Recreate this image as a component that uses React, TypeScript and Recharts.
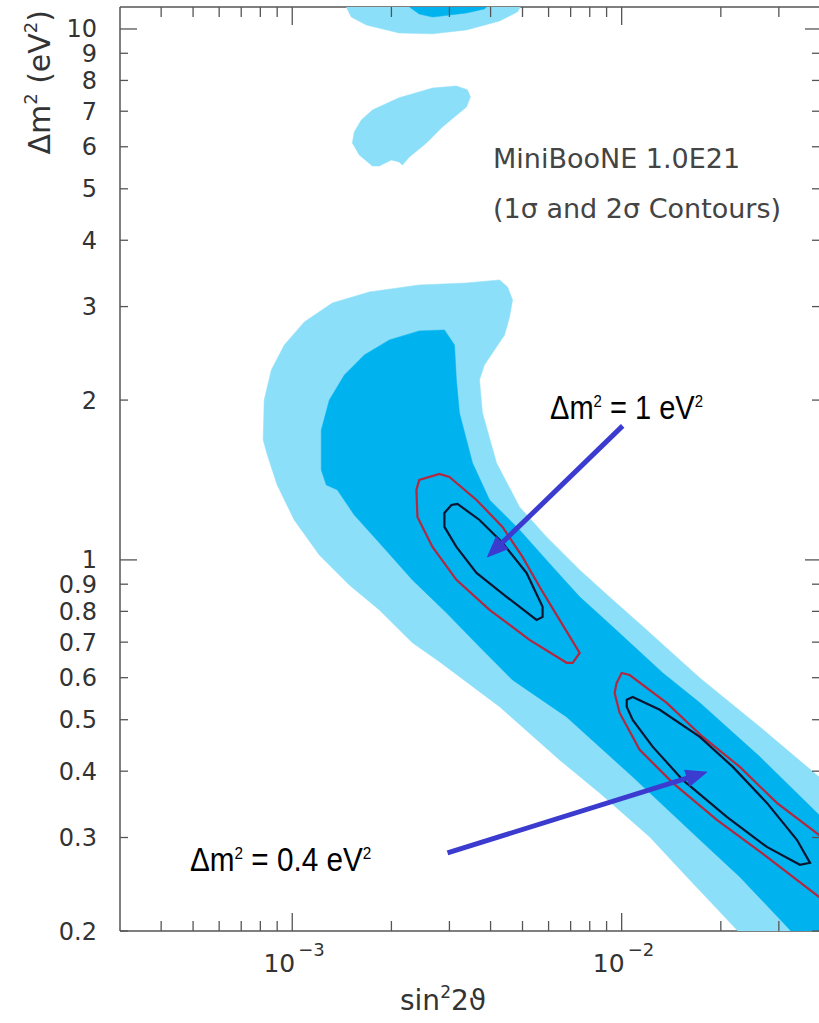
import React from 'react';
import { ScatterChart, Scatter, XAxis, YAxis } from 'recharts';

// ---- axes ----
const xDomain: [number, number] = [3e-4, 0.04];
const yDomain: [number, number] = [0.2, 11];
const xTickValues = [4e-4, 5e-4, 6e-4, 7e-4, 8e-4, 9e-4, 1e-3, 2e-3, 3e-3, 4e-3, 5e-3, 6e-3, 7e-3, 8e-3, 9e-3, 1e-2, 2e-2, 3e-2];
const yTickValues = [0.2, 0.3, 0.4, 0.5, 0.6, 0.7, 0.8, 0.9, 1, 2, 3, 4, 5, 6, 7, 8, 9, 10];

// ---- regions: [sin^2 2theta, dm^2] ----
const band2Sigma: [number, number][] = [
  [8.16e-4, 1.683], [8.22e-4, 2.0], [8.64e-4, 2.279], [9.46e-4, 2.54], [1.088e-3, 2.807],
  [1.323e-3, 3.048], [1.714e-3, 3.197], [2.43e-3, 3.295], [3.38e-3, 3.324], [4.26e-3, 3.367],
  [4.503e-3, 3.267], [4.664e-3, 3.087], [4.567e-3, 2.869], [4.41e-3, 2.653], [4.11e-3, 2.486],
  [3.83e-3, 2.329], [3.702e-3, 2.183], [3.78e-3, 1.892], [4.17e-3, 1.523], [4.898e-3, 1.258],
  [5.916e-3, 1.105], [7.455e-3, 0.9576], [9.39e-3, 0.841], [1.191e-2, 0.738], [1.727e-2, 0.5995],
  [2.628e-2, 0.4847], [3.97e-2, 0.3903], [4.93e-2, 0.349], [4.93e-2, 0.1765], [2.628e-2, 0.1765],
  [2.236e-2, 0.201], [1.61e-2, 0.2496], [1.217e-2, 0.3008], [8.576e-3, 0.364], [6.48e-3, 0.42],
  [4.26e-3, 0.529], [2.798e-3, 0.643], [2.316e-3, 0.698], [1.838e-3, 0.805], [1.49e-3, 0.897],
  [1.208e-3, 1.022], [1.014e-3, 1.189], [9.0e-4, 1.384], [8.4e-4, 1.577],
];
const band1Sigma: [number, number][] = [
  [1.225e-3, 1.477], [1.225e-3, 1.757], [1.296e-3, 2.0], [1.44e-3, 2.23], [1.655e-3, 2.432],
  [1.972e-3, 2.596], [2.43e-3, 2.7], [2.897e-3, 2.711], [3.108e-3, 2.54], [3.15e-3, 2.183],
  [3.218e-3, 1.892], [3.525e-3, 1.523], [3.971e-3, 1.297], [4.898e-3, 1.139], [6.17e-3, 0.97],
  [7.455e-3, 0.852], [9.39e-3, 0.748], [1.333e-2, 0.6125], [1.727e-2, 0.538], [2.628e-2, 0.4256],
  [3.97e-2, 0.3311], [4.93e-2, 0.297], [4.93e-2, 0.1765], [3.6e-2, 0.1765], [3.24e-2, 0.201],
  [2.284e-2, 0.2529], [1.727e-2, 0.297], [1.08e-2, 0.3903], [6.805e-3, 0.506], [4.664e-3, 0.594],
  [3.702e-3, 0.686], [2.938e-3, 0.795], [2.316e-3, 0.917], [1.838e-3, 1.077], [1.543e-3, 1.215],
  [1.37e-3, 1.355], [1.269e-3, 1.384],
];
const islandMid2Sigma: [number, number][] = [
  [1.751e-3, 5.52], [1.598e-3, 5.79], [1.522e-3, 6.1], [1.543e-3, 6.4], [1.621e-3, 6.74],
  [1.751e-3, 7.04], [2.11e-3, 7.42], [2.665e-3, 7.74], [3.15e-3, 7.81], [3.4e-3, 7.68],
  [3.475e-3, 7.45], [3.38e-3, 7.13], [3.108e-3, 6.83], [2.857e-3, 6.54], [2.555e-3, 6.1],
  [2.268e-3, 5.74], [2.16e-3, 5.545], [2.11e-3, 5.617], [2.0e-3, 5.667], [1.838e-3, 5.52],
];
const islandTop2Sigma: [number, number][] = [
  [1.44e-3, 11.84], [1.46e-3, 11.0], [1.51e-3, 10.53], [1.68e-3, 10.17], [2.11e-3, 9.83],
  [2.665e-3, 9.79], [3.38e-3, 9.96], [4.26e-3, 10.35], [4.83e-3, 10.77], [5.07e-3, 11.34],
  [5.14e-3, 11.84],
];
const islandTop1Sigma: [number, number][] = [
  [2.236e-3, 11.84], [2.268e-3, 11.0], [2.43e-3, 10.67], [2.665e-3, 10.53], [3.38e-3, 10.72],
  [3.83e-3, 10.91], [4.11e-3, 11.34], [4.17e-3, 11.84],
];
const contourRed1: [number, number][] = [
  [2.382e-3, 1.355], [2.43e-3, 1.415], [2.798e-3, 1.452], [3.0e-3, 1.433], [3.625e-3, 1.297],
  [4.347e-3, 1.154], [5.0e-3, 1.013], [5.633e-3, 0.89], [6.48e-3, 0.771], [7.455e-3, 0.668],
  [7.1e-3, 0.64], [6.805e-3, 0.64], [5.253e-3, 0.707], [3.971e-3, 0.805], [3.15e-3, 0.917],
  [2.665e-3, 1.058], [2.399e-3, 1.205],
];
const contourBlack1: [number, number][] = [
  [2.897e-3, 1.226], [3.043e-3, 1.269], [3.173e-3, 1.275], [3.702e-3, 1.189], [4.347e-3, 1.077],
  [5.143e-3, 0.945], [5.753e-3, 0.816], [5.753e-3, 0.781], [5.516e-3, 0.771], [4.472e-3, 0.852],
  [3.625e-3, 0.945], [3.15e-3, 1.058], [2.897e-3, 1.154],
];
const contourRed2: [number, number][] = [
  [9.656e-3, 0.5866], [1.0e-2, 0.6125], [1.0575e-2, 0.607], [1.37e-2, 0.538], [1.763e-2, 0.464],
  [2.284e-2, 0.4075], [2.958e-2, 0.3486], [3.97e-2, 0.3034], [4.93e-2, 0.2723], [4.93e-2, 0.21],
  [3.97e-2, 0.2319], [2.759e-2, 0.2759], [1.945e-2, 0.3239], [1.429e-2, 0.3802], [1.134e-2, 0.4387],
  [9.86e-3, 0.515], [9.52e-3, 0.5617],
];
const contourBlack2: [number, number][] = [
  [1.036e-2, 0.545], [1.08e-2, 0.552], [1.305e-2, 0.522], [1.727e-2, 0.464], [2.175e-2, 0.4075],
  [2.759e-2, 0.3486], [3.403e-2, 0.297], [3.73e-2, 0.2688], [3.475e-2, 0.2665], [2.759e-2, 0.288],
  [2.085e-2, 0.3281], [1.532e-2, 0.3852], [1.243e-2, 0.4444], [1.08e-2, 0.4997], [1.036e-2, 0.529],
];
// arrows: [tail, tip]
const arrow1: [number, number][] = [[1.007e-2, 1.788], [3.89e-3, 1.009]];
const arrow2: [number, number][] = [[2.96e-3, 0.2807], [1.826e-2, 0.399]];

// ---- styles ----
const LIGHT = '#8cdff8';
const DARK = '#00b3ef';
const RED = '#b3283f';
const BLACK = '#0b1530';
const ARROW = '#3b3bd0';
const AXIS = '#555555';
const LABEL = '#333333';
const FONT = '"DejaVu Sans", "Liberation Sans", sans-serif';
const ANN_FONT = '"Liberation Sans", Arial, sans-serif';

const toPts = (a: [number, number][]) => a.map(([x, y]) => ({ x, y }));
const isMajor = (v: number) => Math.abs(Math.log10(v) - Math.round(Math.log10(v))) < 1e-6;
const Empty = () => <g />;

function BottomTick(props: any) {
  const { x, y, payload } = props;
  const v = payload.value;
  const major = isMajor(v);
  const exp = Math.round(Math.log10(v));
  return (
    <g>
      <line x1={x} y1={y} x2={x} y2={y - (major ? 18 : 10)} stroke={AXIS} strokeWidth={1.3} />
      {major && (
        <g fontFamily={FONT} fill={LABEL}>
          <text x={x + 3} y={y + 41} fontSize={25} textAnchor="end">10</text>
          <text x={x + 6} y={y + 25} fontSize={18} textAnchor="start">{'\u2212' + Math.abs(exp)}</text>
        </g>
      )}
    </g>
  );
}
function TopTick(props: any) {
  const { x, y, payload } = props;
  const major = isMajor(payload.value);
  return <line x1={x} y1={y} x2={x} y2={y + (major ? 18 : 10)} stroke={AXIS} strokeWidth={1.3} />;
}
function LeftTick(props: any) {
  const { x, y, payload } = props;
  const v = payload.value;
  const major = isMajor(v);
  return (
    <g>
      <line x1={x} y1={y} x2={x + (major ? 17 : 8)} y2={y} stroke={AXIS} strokeWidth={1.3} />
      <text x={x - 23} y={y + 8.5} textAnchor="end" fontSize={24} fontFamily={FONT} fill={LABEL}>{String(v)}</text>
    </g>
  );
}
function RightTick(props: any) {
  const { x, y, payload } = props;
  const major = isMajor(payload.value);
  return <line x1={x} y1={y} x2={x - (major ? 15 : 8)} y2={y} stroke={AXIS} strokeWidth={1.3} />;
}

function ArrowLine(props: any) {
  const pts = props.points || [];
  if (pts.length < 2) return null;
  const { x: x1, y: y1 } = pts[0];
  const { x: x2, y: y2 } = pts[1];
  const dx = x2 - x1;
  const dy = y2 - y1;
  const len = Math.sqrt(dx * dx + dy * dy) || 1;
  const ux = dx / len;
  const uy = dy / len;
  const hl = 22;
  const hw = 9;
  const bx = x2 - ux * hl;
  const by = y2 - uy * hl;
  const head = `${x2},${y2} ${bx - uy * hw},${by + ux * hw} ${bx + uy * hw},${by - ux * hw}`;
  return (
    <g>
      <line x1={x1} y1={y1} x2={bx + ux * 2} y2={by + uy * 2} stroke={ARROW} strokeWidth={5} />
      <polygon points={head} fill={ARROW} />
    </g>
  );
}

export default function App() {
  const fillSeries = [
    { key: 'b2', data: band2Sigma, fill: LIGHT },
    { key: 'm2', data: islandMid2Sigma, fill: LIGHT },
    { key: 't2', data: islandTop2Sigma, fill: LIGHT },
    { key: 'b1', data: band1Sigma, fill: DARK },
    { key: 't1', data: islandTop1Sigma, fill: DARK },
  ];
  const lineSeries = [
    { key: 'r1', data: contourRed1, stroke: RED },
    { key: 'r2', data: contourRed2, stroke: RED },
    { key: 'k1', data: contourBlack1, stroke: BLACK },
    { key: 'k2', data: contourBlack2, stroke: BLACK },
  ];
  return (
    <div style={{ position: 'absolute', left: 0, top: 0, width: 819, height: 1023, overflow: 'hidden', background: '#ffffff' }}>
      <style>{'html,body{margin:0;padding:0;overflow:hidden;}'}</style>
      <ScatterChart width={822} height={1023} margin={{ top: 6, right: 1, bottom: 0, left: 0 }}>
        <XAxis xAxisId="b" orientation="bottom" dataKey="x" type="number" scale="log" domain={xDomain}
          allowDataOverflow ticks={xTickValues} interval={0} tick={<BottomTick />} tickLine={false}
          tickSize={0} tickMargin={0} height={92} axisLine={{ stroke: AXIS, strokeWidth: 1.5 }} />
        <XAxis xAxisId="t" orientation="top" dataKey="x" type="number" scale="log" domain={xDomain}
          allowDataOverflow ticks={xTickValues} interval={0} tick={<TopTick />} tickLine={false}
          tickSize={0} tickMargin={0} height={1} axisLine={{ stroke: AXIS, strokeWidth: 1.5 }} />
        <YAxis yAxisId="l" orientation="left" dataKey="y" type="number" scale="log" domain={yDomain}
          allowDataOverflow ticks={yTickValues} interval={0} tick={<LeftTick />} tickLine={false}
          tickSize={0} tickMargin={0} width={120} axisLine={{ stroke: AXIS, strokeWidth: 1.5 }} />
        <YAxis yAxisId="r" orientation="right" dataKey="y" type="number" scale="log" domain={yDomain}
          allowDataOverflow ticks={yTickValues} interval={0} tick={<RightTick />} tickLine={false}
          tickSize={0} tickMargin={0} width={1} axisLine={{ stroke: AXIS, strokeWidth: 1.5 }} />
        {fillSeries.map((s) => (
          <Scatter key={s.key} xAxisId="b" yAxisId="l" data={toPts(s.data)} fill={s.fill}
            line={{ fill: s.fill, stroke: s.fill, strokeWidth: 0.5 }} lineType="joint" lineJointType="linearClosed"
            shape={<Empty />} isAnimationActive={false} legendType="none" />
        ))}
        {lineSeries.map((s) => (
          <Scatter key={s.key} xAxisId="t" yAxisId="r" data={toPts(s.data)} fill="none"
            line={{ fill: 'none', stroke: s.stroke, strokeWidth: 2.2 }} lineType="joint" lineJointType="linearClosed"
            shape={<Empty />} isAnimationActive={false} legendType="none" />
        ))}
        {[arrow1, arrow2].map((a, i) => (
          <Scatter key={'a' + i} xAxisId="t" yAxisId="r" data={toPts(a)} fill={ARROW}
            line={<ArrowLine />} lineType="joint" shape={<Empty />} isAnimationActive={false} legendType="none" />
        ))}
      </ScatterChart>
      <svg width={819} height={1023} style={{ position: 'absolute', left: 0, top: 0, pointerEvents: 'none' }}>
        <g fontFamily={FONT} fill="#444444" fontSize={27}>
          <text x={493} y={168}>MiniBooNE 1.0E21</text>
          <text x={493} y={218}>(1σ and 2σ Contours)</text>
        </g>
        <text transform="translate(50,10) rotate(-90)" textAnchor="end" fontFamily={FONT} fill={LABEL} fontSize={30}>
          Δm<tspan dy={-13} fontSize={18}>2</tspan><tspan dy={13}> (eV</tspan><tspan dy={-13} fontSize={18}>2</tspan><tspan dy={13}>)</tspan>
        </text>
        <text x={400} y={1010} fontFamily={FONT} fill={LABEL} fontSize={28}>
          sin<tspan dy={-12} fontSize={17}>2</tspan><tspan dy={12}>2ϑ</tspan>
        </text>
        <text transform="translate(550,419) scale(0.88,1)" fontFamily={ANN_FONT} fill="#000" fontSize={33}>
          Δm<tspan dy={-12} fontSize={17}>2</tspan><tspan dy={12}> = 1 eV</tspan><tspan dy={-12} fontSize={17}>2</tspan>
        </text>
        <text transform="translate(190,871) scale(0.9,1)" fontFamily={ANN_FONT} fill="#000" fontSize={33}>
          Δm<tspan dy={-12} fontSize={17}>2</tspan><tspan dy={12}> = 0.4 eV</tspan><tspan dy={-12} fontSize={17}>2</tspan>
        </text>
      </svg>
    </div>
  );
}
